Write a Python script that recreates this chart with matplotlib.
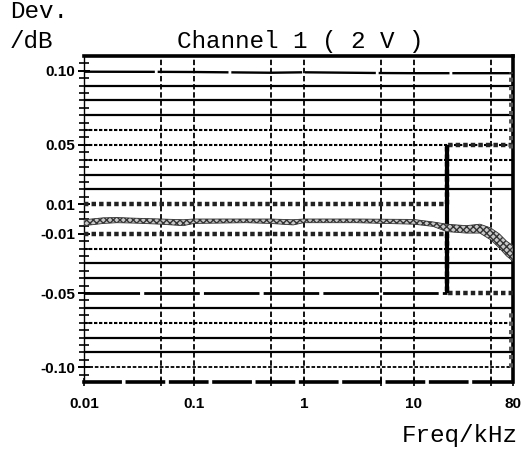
import matplotlib.pyplot as plt
import numpy as np
from matplotlib.ticker import FixedLocator, FixedFormatter, NullFormatter

# measured deviation band (upper / lower edge of the traces)
band_freq = [0.01, 0.015, 0.02, 0.03, 0.05, 0.08, 0.1, 0.3, 0.5, 0.8, 1, 3, 10,
             15, 20, 30, 40, 50, 60, 70, 80]
band_hi = [-0.0005, 0.0008, 0.0010, 0.0005, 0.0000, -0.0005, 0.0000, 0.0000, 0.0000,
           -0.0005, 0.0000, 0.0000, -0.0003, -0.0020, -0.0035, -0.0045, -0.0035,
           -0.0060, -0.0100, -0.0150, -0.0180]
band_lo = [-0.0045, -0.0030, -0.0025, -0.0028, -0.0035, -0.0045, -0.0030, -0.0025,
           -0.0030, -0.0040, -0.0025, -0.0025, -0.0035, -0.0050, -0.0085, -0.0095,
           -0.0095, -0.0140, -0.0195, -0.0250, -0.0285]

# reference traces near +/-0.10 and -0.05
top_freq = [0.01, 0.05, 0.1, 0.5, 1, 5, 10, 50, 78]
top_dev = [0.0994, 0.0993, 0.0992, 0.0987, 0.0990, 0.0985, 0.0984, 0.0984, 0.0984]
low_freq = [0.01, 0.1, 1, 10, 78]
low_dev = [-0.1000, -0.1000, -0.1000, -0.1000, -0.1000]
mid_freq = [0.01, 0.1, 1, 10, 20]
mid_dev = [-0.0498, -0.0498, -0.0498, -0.0498, -0.0498]

# tolerance limits
limit_freq = [0.01, 20, 20, 80]
limit_hi = [0.01, 0.01, 0.05, 0.05]
limit_lo = [-0.01, -0.01, -0.05, -0.05]

# end-of-sweep drop at the right edge
edge_freq = 78
edge_top = [0.0995, 0.048]
edge_bot = [-0.061, -0.100]

ytick_vals = [0.10, 0.05, 0.01, -0.01, -0.05, -0.10]
ytick_labels = ['0.10', '0.05', '0.01', '-0.01', '-0.05', '-0.10']
xtick_vals = [0.01, 0.1, 1, 10, 80]
xtick_labels = ['0.01', '0.1', '1', '10', '80']
vgrid = [0.05, 0.1, 0.5, 1, 5, 10, 50]
dotted_levels = [0.06, 0.05, 0.04, -0.02, -0.07]
solid_levels = [0.09, 0.08, 0.07, 0.03, 0.02, -0.03, -0.04, -0.06, -0.08, -0.09]

W, H = 523, 455
fig = plt.figure(figsize=(W / 100, H / 100), dpi=100)
ax = fig.add_axes([84 / W, 1 - 382 / H, (513 - 84) / W, (382 - 56) / H])
ax.set_xscale('log')
ax.set_xlim(0.01, 80)
ax.set_ylim(-0.11, 0.11)

# grid
for lv in solid_levels:
    ax.axhline(lv, color='black', lw=1.6, zorder=1)
for lv in dotted_levels:
    ax.axhline(lv, color='black', lw=1.5, dashes=(1.6, 0.8), zorder=1)
for f in vgrid:
    ax.axvline(f, color='black', lw=1.3, dashes=(3, 1.5), zorder=1)

# limits
ax.plot(limit_freq, limit_hi, color='#222222', lw=3.2, dashes=(1.0, 0.7), zorder=3)
ax.plot(limit_freq, limit_lo, color='#222222', lw=3.2, dashes=(1.0, 0.7), zorder=3)
ax.vlines(limit_freq[1], limit_lo[2], limit_hi[2], color='black', lw=3, zorder=3)

# traces
ax.plot(top_freq, top_dev, color='black', lw=1.7, dashes=(30, 1.2), zorder=3)
ax.plot(low_freq, low_dev, color='black', lw=1.3, dashes=(2, 1), zorder=3)
ax.plot(mid_freq, mid_dev, color='black', lw=2, dashes=(20, 1.5), zorder=3)
ax.vlines(edge_freq, edge_top[1], edge_top[0], color='#555555', lw=5,
          linestyles=(0, (0.6, 0.6)), zorder=3)
ax.vlines(edge_freq, edge_bot[1], edge_bot[0], color='#555555', lw=5,
          linestyles=(0, (0.6, 0.6)), zorder=3)

# measured band
ax.fill_between(band_freq, band_lo, band_hi, facecolor='#c8c8c8', edgecolor='#333333',
                hatch='xxxxx', lw=0.6, zorder=4)

# spines
ax.spines['top'].set_linewidth(2.6)
ax.spines['right'].set_linewidth(2.6)
ax.spines['bottom'].set_linewidth(2.6)
ax.spines['bottom'].set_linestyle((0, (10, 2)))
ax.spines['left'].set_linewidth(1.0)
ax.spines['left'].set_linestyle((0, (2, 1)))

# ticks
ax.yaxis.set_major_locator(FixedLocator(ytick_vals))
ax.yaxis.set_major_formatter(FixedFormatter(ytick_labels))
ax.yaxis.set_minor_locator(FixedLocator(np.arange(-0.105, 0.106, 0.005)))
ax.yaxis.set_minor_formatter(NullFormatter())
ax.tick_params(axis='y', which='major', direction='inout', length=9, width=1.4, pad=2)
ax.tick_params(axis='y', which='minor', direction='inout', length=7, width=1.2)

ax.xaxis.set_major_locator(FixedLocator(xtick_vals))
ax.xaxis.set_major_formatter(FixedFormatter(xtick_labels))
ax.xaxis.set_minor_locator(FixedLocator(vgrid))
ax.xaxis.set_minor_formatter(NullFormatter())
ax.tick_params(axis='x', which='both', direction='inout', length=6, width=1.2, pad=8)

for lab in ax.get_xticklabels() + ax.get_yticklabels():
    lab.set_family('Liberation Sans')
    lab.set_fontweight('bold')
    lab.set_fontsize(11)

mono = dict(family='Liberation Mono', fontsize=17.5, color='black')
fig.text(10 / W, 1 - 18 / H, 'Dev.', ha='left', va='baseline', **mono)
fig.text(10 / W, 1 - 48 / H, '/dB', ha='left', va='baseline', **mono)
fig.text(300 / W, 1 - 48 / H, 'Channel 1 ( 2 V )', ha='center', va='baseline', **mono)
fig.text(518 / W, 1 - 442 / H, 'Freq/kHz', ha='right', va='baseline', **mono)

fig.savefig('out.png', dpi=100)
